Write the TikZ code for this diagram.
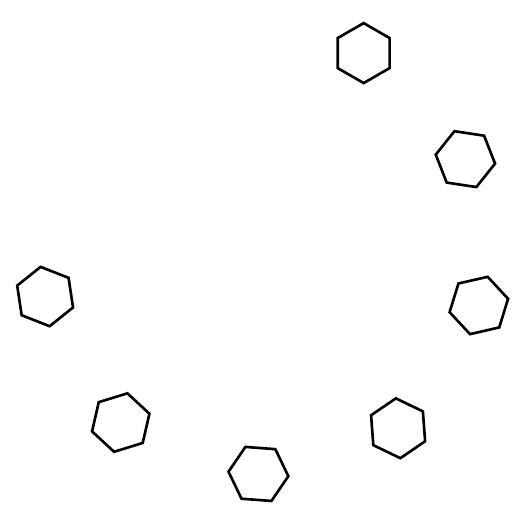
\documentclass[tikz,border=0pt]{standalone}
\usetikzlibrary{calc,shapes.geometric}

\begin{document}
\begin{tikzpicture}[x=0.02cm, y=0.02cm,
  hexa/.style={regular polygon, regular polygon sides=6, draw, line width=1.5pt,
    minimum size=1.2cm, inner sep=0pt, outer sep=0pt}]
  \useasboundingbox (0,0) rectangle (525,525);
  \coordinate (ring) at (263,273.5);

  \foreach \k in {1,...,7}
    \node[hexa, rotate={30-38.57*(\k-1)}] (hex\k)
      at ($(ring)+({63.1-38.57*(\k-1)}:222.5)$) {};
\end{tikzpicture}
\end{document}
